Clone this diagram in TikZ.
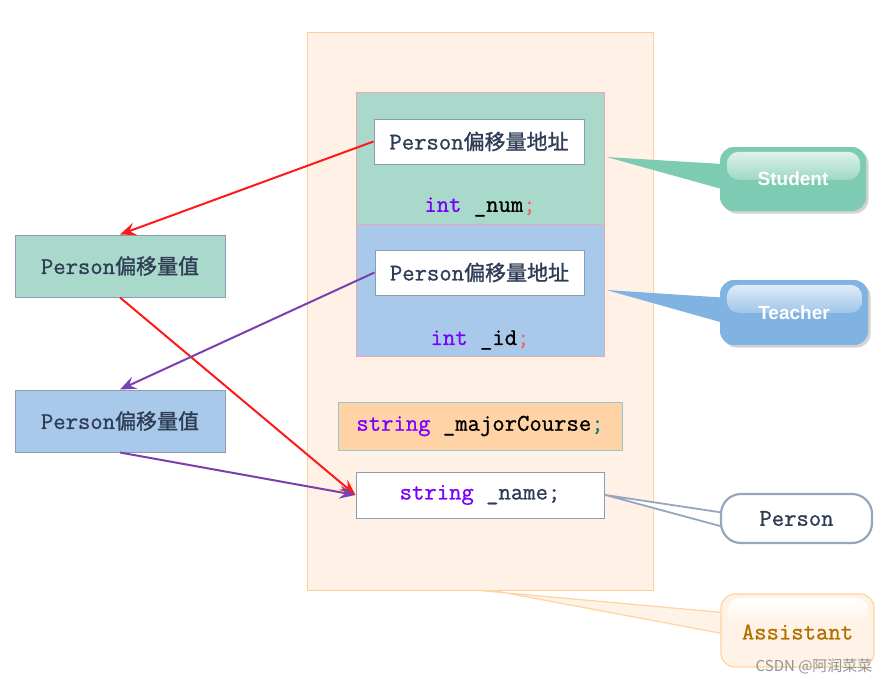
\documentclass[tikz,border=0pt]{standalone}
\usepackage{fontspec}
\newfontfamily\cjk{Noto Sans CJK SC}[FakeBold=1.2]
\newfontfamily\cjkwm{Noto Sans CJK SC}
\newfontfamily\arialfont{Liberation Sans}
\setmonofont{Latin Modern Mono}[FakeBold=1.0]
\usetikzlibrary{arrows.meta,shadows,calc}
\definecolor{bgcream}{HTML}{FFF1E5}
\definecolor{bgborder}{HTML}{FFCF99}
\definecolor{grn}{HTML}{A9D9CA}
\definecolor{blu}{HTML}{A9C9EA}
\definecolor{org}{HTML}{FFD3A6}
\definecolor{pinkb}{HTML}{E8A7B5}
\definecolor{grayb}{HTML}{8B9CB5}
\definecolor{lblue}{HTML}{90C8D8}
\definecolor{txt}{HTML}{2E3D55}
\definecolor{kw}{HTML}{7A00FF}
\definecolor{redarr}{HTML}{FF1A1A}
\definecolor{purarr}{HTML}{7B3FB0}
\definecolor{stucol}{HTML}{7ECBB3}
\definecolor{teacol}{HTML}{80B3E2}
\definecolor{asscol}{HTML}{FFF3E8}
\definecolor{assb}{HTML}{FFD49E}
\definecolor{asstxt}{HTML}{B07000}
\newcommand\zh[1]{{\cjk\fontsize{21}{21}\selectfont #1}}
\newcommand\kwd[1]{\textcolor{kw}{#1}}
\pgfdeclarelayer{bg}
\pgfdeclarelayer{ptr}
\pgfsetlayers{bg,ptr,main}
\begin{document}
\begin{tikzpicture}[x=1pt,y=-1pt,
  mono/.style={font=\fontsize{24}{24}\selectfont\ttfamily},
  rbox/.style={draw, line width=1pt, inner sep=0pt, rectangle},
  addr/.style={rbox, fill=white, draw=grayb, text=txt, mono},
  code/.style={mono, text=black, inner sep=0pt},
  valbox/.style={rbox, draw=grayb, text=txt, mono, minimum width=210pt, minimum height=62pt},
  arr/.style={line width=2pt, -{Stealth[length=16pt,width=13pt,inset=6pt]}},
  callout/.style={rounded corners=14pt, minimum width=#1, inner sep=0pt},
  shadowed/.style={drop shadow={shadow xshift=2.5pt, shadow yshift=-2.5pt, opacity=.35, fill=gray}},
]
\useasboundingbox (0,0) rectangle (891,685);

\begin{pgfonlayer}{bg}
\fill[white] (0,0) rectangle (891,685);
\node[rbox, fill=bgcream, draw=bgborder, minimum width=346pt, minimum height=557pt] (asm) at (480,311.5) {};
\node[rbox, fill=grn, draw=pinkb, minimum width=248pt, minimum height=132pt] (stu) at (480,158) {};
\node[rbox, fill=blu, draw=pinkb, minimum width=248pt, minimum height=132pt] (tea) at (480,290) {};
\node[addr, minimum width=210pt, minimum height=45pt] (addr1) at (479,141.5) {Person\zh{偏移量地址}};
\node[code] (num) at (480,207) {\kwd{int} \_num\textcolor{pinkb!60!red}{;}};
\node[addr, minimum width=209pt, minimum height=45pt] (addr2) at (479.5,272.5) {Person\zh{偏移量地址}};
\node[code] (id) at (480,340) {\kwd{int} \_id\textcolor{pinkb!60!red}{;}};
\node[rbox, fill=org, draw=lblue, minimum width=284pt, minimum height=48pt, mono] (major) at (480,426) {\kwd{string} \_majorCourse\textcolor{teal}{;}};
\node[rbox, fill=white, draw=grayb, minimum width=248pt, minimum height=46pt, mono, text=txt] (name) at (480,495) {\kwd{string} \_name;};
\node[valbox, fill=grn] (val1) at (120,266) {Person\zh{偏移量值}};
\node[valbox, fill=blu] (val2) at (120,421) {Person\zh{偏移量值}};
\end{pgfonlayer}

% arrows
\draw[arr, redarr] (addr1.west) -- (val1.north);
\draw[arr, redarr] (val1.south) -- (name.west);
\draw[arr, purarr] (addr2.west) -- (val2.north);
\draw[arr, purarr] (val2.south) -- (name.west);

% callouts
\node[callout=146pt, minimum height=64pt, fill=stucol, shadowed] (cs) at (793,179) {};
\shade[top color=white!75!stucol, bottom color=white!25!stucol, rounded corners=12pt]
  ($(cs.north west)+(7,5)$) rectangle ($(cs.north east)+(-6,33)$);
\node[text=white, font=\arialfont\bfseries\fontsize{19}{19}\selectfont] (cst) at (cs.center) {Student};

\node[callout=148pt, minimum height=65pt, fill=teacol, shadowed] (ct) at (794,312.5) {};
\shade[top color=white!75!teacol, bottom color=white!25!teacol, rounded corners=12pt]
  ($(ct.north west)+(7,5)$) rectangle ($(ct.north east)+(-6,33)$);
\node[text=white, font=\arialfont\bfseries\fontsize{19}{19}\selectfont] (ctt) at (ct.center) {Teacher};

\node[callout=151pt, minimum height=49pt, rounded corners=20pt, fill=white, draw=grayb!90, line width=2.2pt, mono, text=txt] (cp) at (796.5,518.5) {Person};

\node[callout=153pt, minimum height=73pt, fill=asscol, draw=assb, line width=1.2pt] (ca) at (797.5,630.5) {};
\shade[top color=white, bottom color=asscol, rounded corners=12pt]
  ($(ca.north west)+(7,5)$) rectangle ($(ca.north east)+(-6,30)$);
\node[text=asstxt, font=\fontsize{24}{24}\selectfont\ttfamily\bfseries] (cat) at (797.5,632) {Assistant};

% pointers
\begin{pgfonlayer}{ptr}
\fill[stucol] ($(stu.east)+(2,-1)$) -- ($(cs.west)+(2,-15)$) -- ($(cs.west)+(2,10)$) -- cycle;
\fill[teacol] ($(tea.east)+(2,0)$) -- ($(ct.west)+(2,-15)$) -- ($(ct.west)+(2,10)$) -- cycle;
\filldraw[fill=white, draw=grayb!90, line width=1.8pt, line join=round] ($(name.east)+(1,0)$) -- ($(cp.west)+(2,-6)$) -- ($(cp.west)+(2,8)$) -- cycle;
\filldraw[fill=asscol, draw=assb, line width=1.2pt] ($(asm.south)+(0,0)$) -- ($(ca.west)+(2,-18)$) -- ($(ca.west)+(2,3)$) -- ($(asm.south)+(13,0)$);
\end{pgfonlayer}

\node[text=gray!85, font=\cjkwm\fontsize{15}{15}\selectfont, anchor=east] (wm) at (876,666) {CSDN @阿润菜菜};
\end{tikzpicture}
\end{document}
